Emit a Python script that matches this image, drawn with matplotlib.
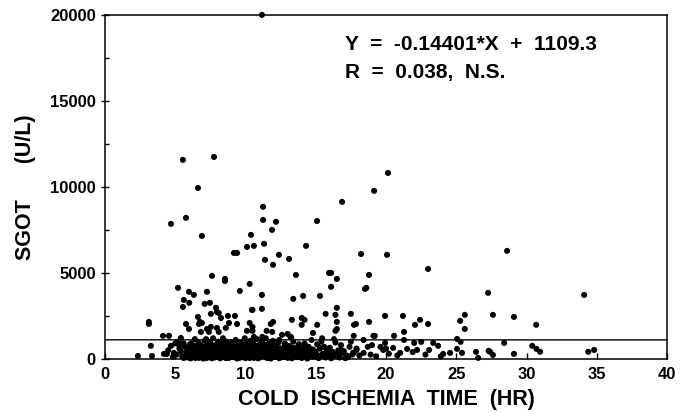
import numpy as np
import matplotlib.pyplot as plt
from matplotlib.ticker import MultipleLocator

# sparse points above the cluster (hr, U/L)
high_x = [11.17, 5.55, 7.76, 6.62, 11.25, 5.77, 4.70, 11.25, 12.17, 11.89, 6.90, 10.39,
          10.11, 10.60, 11.32, 9.18, 9.40, 11.39, 12.38, 13.10, 11.96, 14.31, 15.09, 13.59,
          15.94, 7.62, 8.54, 20.14, 19.15, 16.87, 18.22, 20.07, 22.99, 28.61, 16.09, 18.79,
          16.5, 18.5, 27.26, 34.09, 27.6, 29.1, 30.68, 25.6, 25.27, 25.6, 22.42, 22.06,
          22.99, 21.2, 21.28, 19.93, 18.79, 17.86, 17.72, 17.5]
high_y = [20000, 11570, 11740, 9940, 8840, 8200, 7850, 8080, 7970, 7500, 7150, 7210,
          6510, 6570, 6690, 6160, 6160, 5760, 6050, 5810, 5470, 6570, 8020, 4880,
          5000, 4830, 4650, 10810, 9770, 9130, 6100, 6050, 5230, 6280, 5000, 4880,
          4650, 4070, 3840, 3720, 2560, 2440, 1980, 2560, 2210, 1740, 2270, 1980,
          2030, 2500, 1570, 2500, 2150, 2030, 1980, 2620]

mid_x = [10.3, 11.17, 16.09, 18.6, 13.4, 14.1, 15.3, 10.5, 11.17, 16.5, 15.7, 16.4,
         13.3, 14.0, 14.2, 14.0, 15.1, 16.5, 16.5, 16.4, 11.96, 11.8, 10.3, 10.5,
         10.5, 11.5, 11.9, 14.8, 10.6, 11.2, 13.2, 17.7, 19.2, 8.54, 5.2, 5.98,
         6.33, 7.26, 9.6, 5.62, 6.0, 5.55, 7.1, 7.47, 7.9, 7.97, 8.1, 7.54,
         8.26, 8.75, 9.25, 10.46, 6.62, 6.76, 6.7, 6.9, 5.77, 5.98, 3.13, 3.13,
         7.26, 7.54, 7.4, 6.83, 8.1, 7.97, 8.83, 9.4, 8.6, 10.1, 5.41, 4.13,
         4.56, 13.0, 12.6]
mid_y = [4360, 3720, 4190, 4130, 3490, 3660, 3660, 2850, 2910, 2970, 2620, 2560,
         2270, 2380, 2270, 1980, 1980, 2150, 1740, 1630, 2150, 2030, 2090, 1860,
         1630, 1630, 1570, 1510, 1280, 1280, 1280, 1340, 1340, 4530, 4130, 3900,
         3720, 3900, 3950, 3430, 3260, 3020, 3200, 3260, 2970, 2730, 2670, 2620,
         2380, 2500, 2500, 2850, 2440, 2150, 2030, 2090, 2030, 1740, 2150, 2030,
         1740, 1860, 1570, 1570, 1570, 1800, 2090, 2030, 1800, 1630, 1220, 1340,
         1340, 1450, 1400]

# dense cluster below ~1300 U/L
low_x = [3.27, 4.7, 5.27, 4.2, 4.41, 3.35, 2.35, 4.84, 4.5, 4.9, 5.0,
         5.1, 5.3, 5.5, 5.6, 5.8, 5.9, 5.2, 5.7, 5.95, 5.4,
         6.0, 6.1, 6.15, 6.2, 6.3, 6.35, 6.4, 6.45, 6.5, 6.55, 6.6, 6.65, 6.7, 6.75, 6.8,
         6.85, 6.9, 6.95, 6.25, 6.05,
         7.0, 7.05, 7.1, 7.15, 7.2, 7.25, 7.3, 7.35, 7.4, 7.45, 7.5, 7.55, 7.6, 7.65, 7.7,
         7.75, 7.8, 7.85, 7.9, 7.95, 7.2, 7.6,
         8.0, 8.05, 8.1, 8.15, 8.2, 8.25, 8.3, 8.35, 8.4, 8.45, 8.5, 8.55, 8.6, 8.65, 8.7,
         8.75, 8.8, 8.85, 8.9, 8.95, 8.4, 8.1,
         9.0, 9.05, 9.1, 9.15, 9.2, 9.25, 9.3, 9.35, 9.4, 9.45, 9.5, 9.55, 9.6, 9.65, 9.7,
         9.75, 9.8, 9.85, 9.9, 9.95, 9.3, 9.7,
         10.0, 10.05, 10.1, 10.15, 10.2, 10.25, 10.3, 10.35, 10.4, 10.45, 10.5, 10.55, 10.6,
         10.65, 10.7, 10.75, 10.8, 10.85, 10.9, 10.95, 10.3,
         11.0, 11.05, 11.1, 11.15, 11.2, 11.25, 11.3, 11.35, 11.4, 11.45, 11.5, 11.55, 11.6,
         11.65, 11.7, 11.75, 11.8, 11.85, 11.9, 11.95,
         12.0, 12.1, 12.2, 12.3, 12.4, 12.5, 12.6, 12.7, 12.8, 12.9, 12.15, 12.45, 12.75,
         12.95, 12.35,
         13.0, 13.1, 13.2, 13.3, 13.4, 13.5, 13.6, 13.7, 13.8, 13.9, 13.25, 13.65, 13.85,
         14.0, 14.1, 14.2, 14.3, 14.4, 14.5, 14.6, 14.7, 14.8, 14.9, 14.25, 14.75,
         15.0, 15.1, 15.2, 15.3, 15.4, 15.5, 15.6, 15.7, 15.8, 15.9, 15.45,
         16.0, 16.2, 16.4, 16.5, 16.6, 16.8, 16.9, 16.3,
         17.0, 17.2, 17.4, 17.5, 17.7, 17.9, 17.3,
         28.4, 30.4, 30.7, 30.96, 34.38, 34.8, 26.4, 26.55, 27.3, 27.6, 29.1, 25.05, 25.3,
         25.05, 25.4, 24.55, 24.06, 23.7, 23.35, 23.06, 22.5, 22.2, 22.0, 21.5, 21.28, 21.0,
         20.57, 20.5, 19.93, 19.8, 19.6, 19.1, 18.7, 18.4, 18.4, 17.9, 17.65, 27.4,
         18.1, 18.9, 19.3, 20.2, 20.8, 21.9, 22.8, 23.9, 19.0, 20.0]
low_y = [760, 760, 810, 290, 290, 170, 170, 120, 500, 350, 900,
         250, 600, 150, 900, 400, 80, 1000, 700, 300, 450,
         200, 550, 900, 100, 350, 750, 1150, 50, 450, 250, 650, 950, 150, 400, 800,
         300, 550, 100, 600, 850,
         350, 700, 1050, 200, 500, 50, 850, 300, 600, 150, 950, 400, 700, 250, 1200,
         500, 80, 800, 350, 600, 1150, 100,
         200, 1000, 450, 700, 100, 300, 900, 550, 1200, 200, 750, 400, 50, 1000, 600,
         300, 850, 150, 500, 700, 350, 800,
         250, 950, 500, 100, 700, 350, 1100, 550, 200, 800, 400, 60, 650, 950, 300,
         500, 150, 850, 400, 1200, 700, 750,
         300, 600, 900, 150, 450, 750, 50, 1050, 350, 650, 200, 900, 500,
         100, 750, 350, 1150, 550, 250, 800, 450,
         400, 100, 700, 1000, 300, 550, 850, 150, 450, 1200, 250, 650, 50,
         900, 400, 600, 200, 800, 350, 1050,
         150, 500, 800, 300, 1100, 600, 100, 400, 900, 250, 650, 200, 700,
         500, 950,
         350, 750, 150, 500, 1000, 300, 650, 100, 850, 450, 1250, 400, 200,
         600, 250, 900, 450, 100, 700, 350, 1100, 550, 200, 800, 300,
         400, 850, 150, 600, 1000, 300, 700, 80, 500, 250, 1200,
         650, 300, 950, 150, 500, 800, 350, 1150,
         450, 200, 700, 1000, 350, 600, 100,
         930, 760, 580, 410, 410, 520, 410, 60, 470, 230, 290, 1160, 990,
         580, 350, 350, 290, 760, 930, 520, 990, 520, 930, 580, 1100, 350,
         1340, 640, 930, 520, 700, 1340, 700, 1100, 350, 520, 350, 410,
         200, 250, 150, 300, 200, 400, 250, 150, 800, 600]

# extra fill for the solid core of the cluster
core_x = [5.6, 6.1, 6.4, 6.7, 7.0, 7.3, 7.6, 7.9, 8.2, 8.5, 8.8, 9.1, 9.4, 9.7, 10.0,
          10.3, 10.6, 10.9, 11.2, 11.5, 11.8, 12.1, 12.4, 12.7, 13.0, 13.3, 13.6, 14.0,
          14.4, 14.8, 15.2, 15.6, 16.1, 16.7, 17.1,
          5.9, 6.2, 6.5, 6.8, 7.1, 7.4, 7.7, 8.0, 8.3, 8.6, 8.9, 9.2, 9.5, 9.8, 10.1,
          10.4, 10.7, 11.0, 11.3, 11.6, 11.9, 12.25, 12.55, 12.85, 13.15, 13.45, 13.75,
          14.15, 14.55, 14.95, 15.35, 15.75, 16.35, 16.85, 17.6,
          5.75, 6.05, 6.35, 6.65, 6.95, 7.25, 7.55, 7.85, 8.15, 8.45, 8.75, 9.05, 9.35,
          9.65, 9.95, 10.25, 10.55, 10.85, 11.15, 11.45, 11.75, 12.05, 12.35, 12.65,
          12.95, 13.3, 13.7, 14.1, 14.5, 14.9, 15.3, 15.7, 16.2, 16.6,
          6.0, 6.45, 6.9, 7.35, 7.8, 8.25, 8.7, 9.15, 9.6, 10.05, 10.5, 10.95, 11.4,
          11.85, 12.3, 12.8, 13.4, 14.3, 15.0, 15.9]
core_y = [50, 30, 120, 60, 20, 130, 40, 150, 30, 110, 50, 160, 20, 90, 40,
          140, 60, 30, 180, 70, 20, 110, 40, 160, 60, 30, 140, 50,
          20, 120, 40, 160, 30, 80, 40,
          250, 380, 300, 520, 420, 280, 350, 600, 480, 250, 420, 330, 560, 250, 500,
          280, 420, 600, 230, 360, 520, 300, 450, 350, 250, 550, 300,
          420, 250, 450, 200, 350, 250, 500, 250,
          200, 650, 480, 180, 620, 420, 200, 500, 250, 620, 200, 420, 700,
          200, 620, 300, 480, 220, 450, 380, 250, 700, 180, 550,
          300, 650, 220, 350, 550, 300, 650, 150, 400, 200,
          480, 180, 620, 300, 450, 150, 650, 300, 120, 700, 380, 160, 520,
          250, 450, 120, 320, 600, 150, 420]

slope, intercept = -0.14401, 1109.3

x_all = high_x + mid_x + low_x + core_x
y_all = high_y + mid_y + low_y + core_y

plt.rcParams['font.family'] = ['Liberation Sans', 'DejaVu Sans']
plt.rcParams['font.weight'] = 'bold'

fig = plt.figure(figsize=(6.9, 4.13), dpi=100)
ax = fig.add_axes([0.152, 0.131, 0.815, 0.833])

ax.scatter(x_all, y_all, s=19, c='black', edgecolors='none', zorder=3, clip_on=False)

xl = np.array([0, 40])
ax.plot(xl, slope * xl + intercept, color='black', lw=1.0, zorder=2)

ax.set_xlim(0, 40)
ax.set_ylim(0, 20000)
ax.xaxis.set_major_locator(MultipleLocator(5))
ax.yaxis.set_major_locator(MultipleLocator(5000))
ax.yaxis.set_minor_locator(MultipleLocator(2500))
ax.tick_params(axis='x', direction='in', length=4, width=1, labelsize=12, pad=6)
ax.tick_params(axis='y', which='major', direction='inout', length=6, width=1, labelsize=12)
ax.tick_params(axis='y', which='minor', direction='in', length=3, width=1)
for lab in ax.get_xticklabels() + ax.get_yticklabels():
    lab.set_fontweight('bold')
for sp in ax.spines.values():
    sp.set_linewidth(1.1)

ax.set_xlabel('COLD  ISCHEMIA  TIME  (HR)', fontsize=15.5, fontweight='bold', labelpad=5)
ax.set_ylabel('SGOT      (U/L)', fontsize=15.5, fontweight='bold', labelpad=10)

ax.text(17.1, 18300, 'Y  =  -0.14401*X  +  1109.3', fontsize=15, fontweight='bold', va='center')
ax.text(17.1, 16650, 'R  =  0.038,  N.S.', fontsize=15, fontweight='bold', va='center')

fig.savefig('out.png', dpi=100)
